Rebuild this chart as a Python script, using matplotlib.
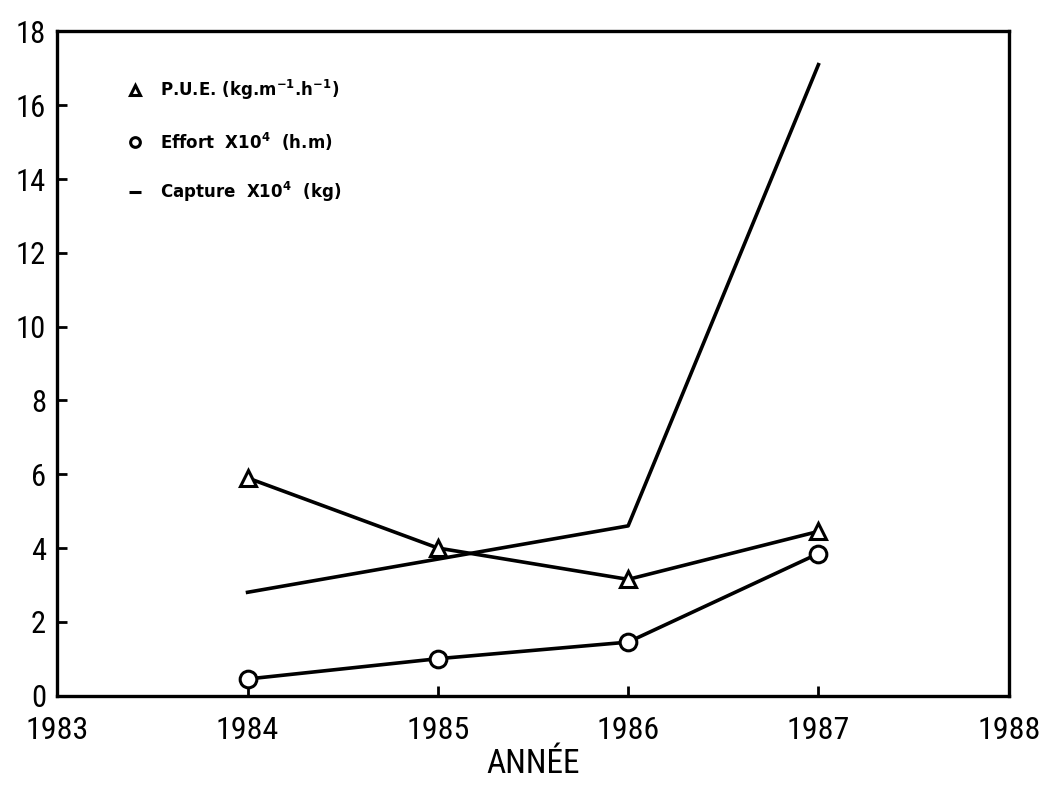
import matplotlib
matplotlib.use("Agg")
import matplotlib.pyplot as plt
from matplotlib import font_manager
import logging
logging.getLogger('matplotlib.font_manager').setLevel(logging.ERROR)

years = [1984, 1985, 1986, 1987]
pue = [5.9, 4.0, 3.15, 4.45]
effort = [0.45, 1.0, 1.45, 3.85]
capture = [2.8, 3.7, 4.6, 17.1]
xticks = [1983, 1984, 1985, 1986, 1987, 1988]
yticks = [0, 2, 4, 6, 8, 10, 12, 14, 16, 18]

names = {f.name for f in font_manager.fontManager.ttflist}
cands = ['DejaVu Sans Condensed', 'Liberation Sans Narrow', 'Roboto Condensed',
         'Open Sans Condensed', 'Noto Sans Condensed']
narrow = next((c for c in cands if c in names), None)
if narrow is None:
    tick_family = 'DejaVu Sans'
    tick_stretch = 'condensed'
else:
    tick_family = narrow
    tick_stretch = 'normal'

fig = plt.figure(figsize=(10.41, 7.86), dpi=100)
ax = fig.add_axes([0.055, 0.115, 0.914, 0.845])

ax.plot(years, capture, color='black', lw=2.6, zorder=2)
ax.plot(years, pue, color='black', lw=2.6, marker='^', ms=11, mfc='white',
        mec='black', mew=2.2, zorder=3)
ax.plot(years, effort, color='black', lw=2.6, marker='o', ms=12, mfc='white',
        mec='black', mew=2.2, zorder=3)

ax.set_xlim(1983, 1988)
ax.set_ylim(0, 18)
ax.set_xticks(xticks)
ax.set_yticks(yticks)
xsize = 23 if narrow else 20
ysize = 22 if narrow else 19
ax.set_xticklabels([str(v) for v in xticks], fontfamily=tick_family,
                   fontstretch=tick_stretch, fontsize=xsize)
ax.set_yticklabels([str(v) for v in yticks], fontfamily=tick_family,
                   fontstretch=tick_stretch, fontsize=ysize)
ax.tick_params(axis='both', direction='in', length=7, width=2, top=False, right=False)
ax.tick_params(axis='x', pad=15)
ax.tick_params(axis='y', pad=8)
for s in ax.spines.values():
    s.set_linewidth(2.4)

ax.set_xlabel('ANNÉE', fontfamily=tick_family, fontstretch=tick_stretch,
              fontsize=24, labelpad=2)

# legend drawn as text entries
lx_m, lx_t = 0.082, 0.108
rows = [(0.912, '^', r'P.U.E. (kg.m$^{\mathbf{-1}}$.h$^{\mathbf{-1}}$)'),
        (0.834, 'o', r'Effort  X10$^{\mathbf{4}}$  (h.m)'),
        (0.758, '_', r'Capture  X10$^{\mathbf{4}}$  (kg)')]
for yy, mk, txt in rows:
    ax.plot([lx_m], [yy], transform=ax.transAxes, marker=mk, ms=7 if mk != '_' else 9,
            mfc='white', mec='black', mew=2.2, color='black', clip_on=False)
    ax.text(lx_t, yy, txt, transform=ax.transAxes, fontsize=12, fontweight='bold',
            va='center', ha='left', fontfamily='DejaVu Sans')

fig.savefig('out.png', dpi=100)
